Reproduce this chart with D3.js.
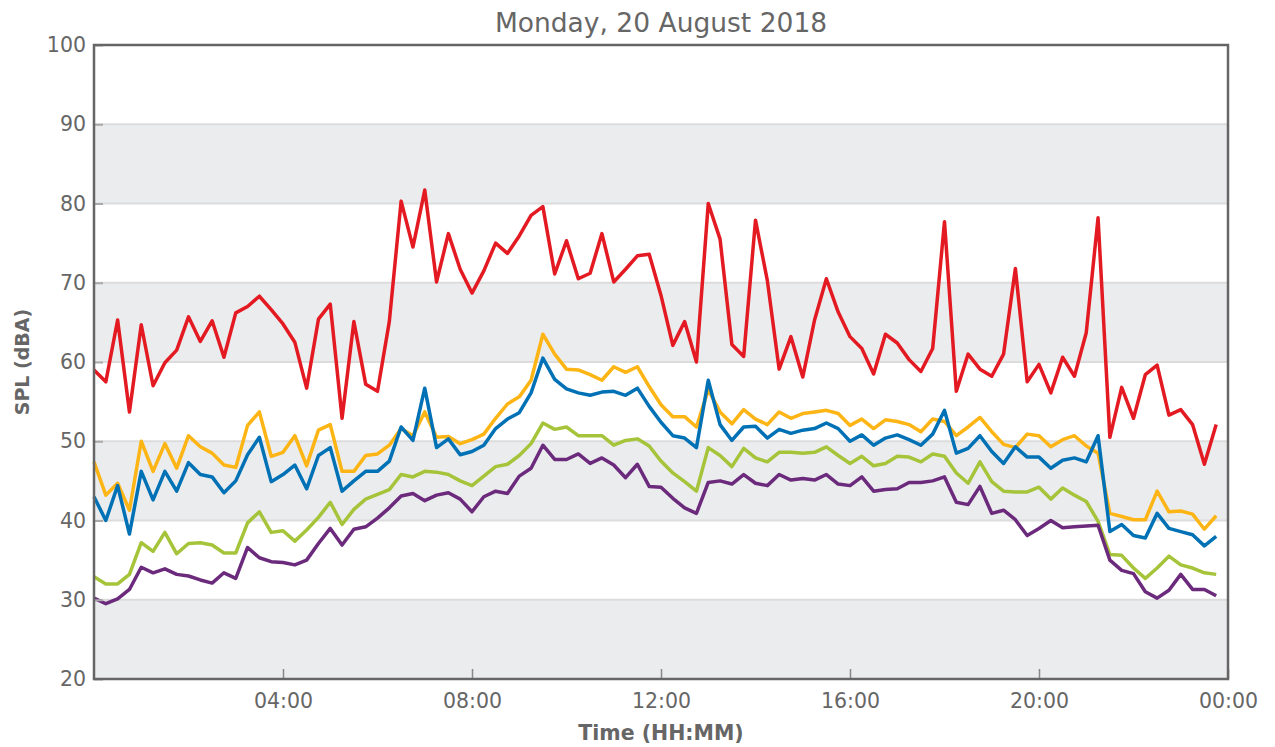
<!DOCTYPE html>
<html>
<head>
<meta charset="utf-8">
<script src="https://cdn.jsdelivr.net/npm/d3@7"></script>
<style>
  body { margin: 0; background: #fff; }
  svg text { font-family: "DejaVu Sans", sans-serif; fill: #666; }
</style>
</head>
<body>
<div id="chart"></div>
<script>
// 15-minute SPL levels, 00:00 .. 23:45
const lmax = [59.0,57.5,65.3,53.7,64.7,57.0,59.9,61.5,65.7,62.6,65.2,60.6,66.2,67.0,68.3,66.6,64.8,62.5,56.7,65.4,67.3,52.9,65.1,57.2,56.3,65.1,80.3,74.5,81.7,70.1,76.2,71.7,68.7,71.5,75.0,73.7,75.9,78.5,79.6,71.1,75.3,70.5,71.2,76.2,70.1,71.7,73.4,73.6,68.4,62.1,65.1,60.0,80.0,75.5,62.2,60.7,77.9,70.3,59.1,63.2,58.1,65.3,70.5,66.3,63.2,61.7,58.5,63.5,62.4,60.3,58.8,61.7,77.7,56.3,61.0,59.1,58.2,61.0,71.8,57.5,59.7,56.1,60.6,58.2,63.7,78.2,50.5,56.8,52.9,58.4,59.6,53.3,54.0,52.1,47.1,52.1];
const l10 = [47.4,43.2,44.7,41.3,50.0,46.2,49.7,46.6,50.7,49.3,48.5,47.0,46.7,52.0,53.7,48.1,48.6,50.7,46.9,51.4,52.1,46.2,46.2,48.2,48.4,49.5,51.6,50.7,53.7,50.5,50.6,49.7,50.2,50.9,52.9,54.7,55.6,57.7,63.5,61.0,59.1,59.0,58.4,57.7,59.4,58.7,59.4,56.9,54.6,53.1,53.1,51.8,56.5,53.7,52.2,54.0,52.8,52.1,53.7,52.9,53.5,53.7,53.9,53.5,52.0,52.8,51.6,52.7,52.5,52.1,51.2,52.8,52.5,50.7,51.8,53.0,51.2,49.6,49.2,50.9,50.7,49.3,50.2,50.7,49.4,48.5,40.9,40.5,40.1,40.1,43.7,41.1,41.2,40.8,38.9,40.6];
const leq = [43.0,40.0,44.4,38.3,46.2,42.6,46.2,43.7,47.3,45.8,45.5,43.5,45.0,48.3,50.5,44.9,45.8,47.0,44.0,48.2,49.2,43.7,45.0,46.2,46.2,47.5,51.8,50.1,56.7,49.2,50.3,48.3,48.7,49.5,51.6,52.8,53.6,56.1,60.5,57.8,56.6,56.1,55.8,56.2,56.3,55.8,56.7,54.4,52.4,50.7,50.4,49.2,57.7,52.1,50.1,51.8,51.9,50.4,51.5,51.0,51.4,51.6,52.3,51.6,50.0,50.8,49.5,50.4,50.8,50.2,49.5,50.9,53.9,48.5,49.1,50.7,48.7,47.2,49.3,48.0,48.0,46.6,47.6,47.9,47.4,50.7,38.6,39.5,38.1,37.8,40.9,39.0,38.6,38.2,36.8,38.0];
const l50 = [32.9,32.0,32.0,33.2,37.2,36.1,38.5,35.8,37.1,37.2,36.9,35.9,35.9,39.7,41.1,38.5,38.7,37.4,38.8,40.4,42.3,39.5,41.4,42.7,43.3,43.9,45.8,45.5,46.2,46.1,45.8,45.0,44.4,45.6,46.8,47.1,48.2,49.7,52.3,51.5,51.8,50.7,50.7,50.7,49.5,50.1,50.3,49.4,47.5,46.0,44.9,43.7,49.2,48.2,46.8,49.1,47.9,47.4,48.6,48.6,48.5,48.6,49.3,48.2,47.2,48.1,46.9,47.2,48.1,48.0,47.4,48.4,48.1,46.0,44.7,47.4,44.9,43.7,43.6,43.6,44.2,42.7,44.1,43.2,42.4,39.9,35.7,35.6,34.0,32.7,34.0,35.5,34.4,34.0,33.4,33.2];
const l90 = [30.2,29.5,30.1,31.3,34.1,33.4,33.9,33.2,33.0,32.5,32.1,33.4,32.7,36.6,35.3,34.8,34.7,34.4,35.0,37.1,39.0,36.9,38.9,39.2,40.3,41.6,43.1,43.4,42.5,43.2,43.5,42.7,41.1,43.0,43.7,43.4,45.6,46.6,49.5,47.7,47.7,48.4,47.2,47.9,47.0,45.4,47.1,44.3,44.2,42.8,41.6,40.9,44.8,45.0,44.6,45.8,44.7,44.4,45.8,45.1,45.3,45.1,45.8,44.6,44.4,45.5,43.7,43.9,44.0,44.8,44.8,45.0,45.5,42.3,42.0,44.3,40.9,41.3,40.1,38.1,39.0,40.0,39.1,39.2,39.3,39.4,35.0,33.7,33.3,31.0,30.2,31.2,33.2,31.3,31.3,30.5];

const series = [
  {name: 'Lmax', values: lmax, color: '#e31a22'},
  {name: 'L10', values: l10, color: '#fdb515'},
  {name: 'Leq', values: leq, color: '#0071b5'},
  {name: 'L50', values: l50, color: '#a6c43a'},
  {name: 'L90', values: l90, color: '#6b2a7c'}
];

const yTicks = [20, 30, 40, 50, 60, 70, 80, 90, 100];

const width = 1275;
const height = 747;
const margin = {top: 45, right: 47, bottom: 68, left: 94};

const day0 = new Date(2018, 7, 20, 0, 0);
const day1 = new Date(2018, 7, 21, 0, 0);
const times = lmax.map((d, i) => new Date(day0.getTime() + i * 15 * 60000));

const svg = d3.select('#chart')
  .append('svg')
  .attr('width', width)
  .attr('height', height);

const x = d3.scaleTime()
  .domain([day0, day1])
  .range([margin.left, width - margin.right]);

const y = d3.scaleLinear()
  .domain([20, 100])
  .range([height - margin.bottom, margin.top]);

// alternating bands
const bands = d3.range(20, 100, 20);
svg.append('g')
  .selectAll('rect')
  .data(bands)
  .enter().append('rect')
    .attr('x', margin.left)
    .attr('width', x.range()[1] - x.range()[0])
    .attr('y', d => y(d + 10))
    .attr('height', d => y(d) - y(d + 10))
    .attr('fill', '#ebecee');

// horizontal grid
svg.append('g')
  .selectAll('line')
  .data(yTicks.slice(1, -1))
  .enter().append('line')
    .attr('x1', margin.left)
    .attr('x2', width - margin.right)
    .attr('y1', d => y(d))
    .attr('y2', d => y(d))
    .attr('stroke', '#dcdcdc')
    .attr('stroke-width', 2);

// lines
const line = d3.line()
  .x((d, i) => x(times[i]))
  .y(d => y(d));

svg.append('g')
  .selectAll('path')
  .data(series)
  .enter().append('path')
    .attr('d', d => line(d.values))
    .attr('fill', 'none')
    .attr('stroke', d => d.color)
    .attr('stroke-width', 3.5)
    .attr('stroke-linejoin', 'round');

// axes
const xAxis = d3.axisBottom(x)
  .ticks(d3.timeHour.every(4))
  .tickFormat(d3.timeFormat('%H:%M'))
  .tickSizeInner(-10)
  .tickSizeOuter(0)
  .tickPadding(14);

const gx = svg.append('g')
  .attr('transform', `translate(0,${height - margin.bottom})`)
  .call(xAxis);
gx.select('.domain').remove();
gx.selectAll('.tick line').attr('stroke', '#888').attr('stroke-width', 1.5);
gx.selectAll('.tick').filter(d => d.getTime() === day0.getTime()).remove();
gx.selectAll('text').style('font-size', '20.5px').style('fill', '#666');

const yAxis = d3.axisLeft(y)
  .tickValues(yTicks)
  .tickFormat(d3.format('d'))
  .tickSizeInner(-9)
  .tickSizeOuter(0)
  .tickPadding(8);

const gy = svg.append('g')
  .attr('transform', `translate(${margin.left},0)`)
  .call(yAxis);
gy.select('.domain').remove();
gy.selectAll('.tick line').attr('stroke', '#aaa').attr('stroke-width', 2);
gy.selectAll('text').style('font-size', '20.5px').style('fill', '#666');

// frame
svg.append('rect')
  .attr('x', margin.left)
  .attr('y', margin.top)
  .attr('width', width - margin.left - margin.right)
  .attr('height', height - margin.top - margin.bottom)
  .attr('fill', 'none')
  .attr('stroke', '#666')
  .attr('stroke-width', 2.5);

// titles
svg.append('text')
  .attr('x', (margin.left + width - margin.right) / 2)
  .attr('y', 32)
  .attr('text-anchor', 'middle')
  .style('font-size', '26.5px')
  .text('Monday, 20 August 2018');

svg.append('text')
  .attr('x', (margin.left + width - margin.right) / 2)
  .attr('y', 740)
  .attr('text-anchor', 'middle')
  .style('font-size', '20.5px')
  .style('font-weight', 'bold')
  .text('Time (HH:MM)');

svg.append('text')
  .attr('transform', `translate(29,${(margin.top + height - margin.bottom) / 2}) rotate(-90)`)
  .attr('text-anchor', 'middle')
  .style('font-size', '19px')
  .style('font-weight', 'bold')
  .text('SPL (dBA)');
</script>
</body>
</html>
